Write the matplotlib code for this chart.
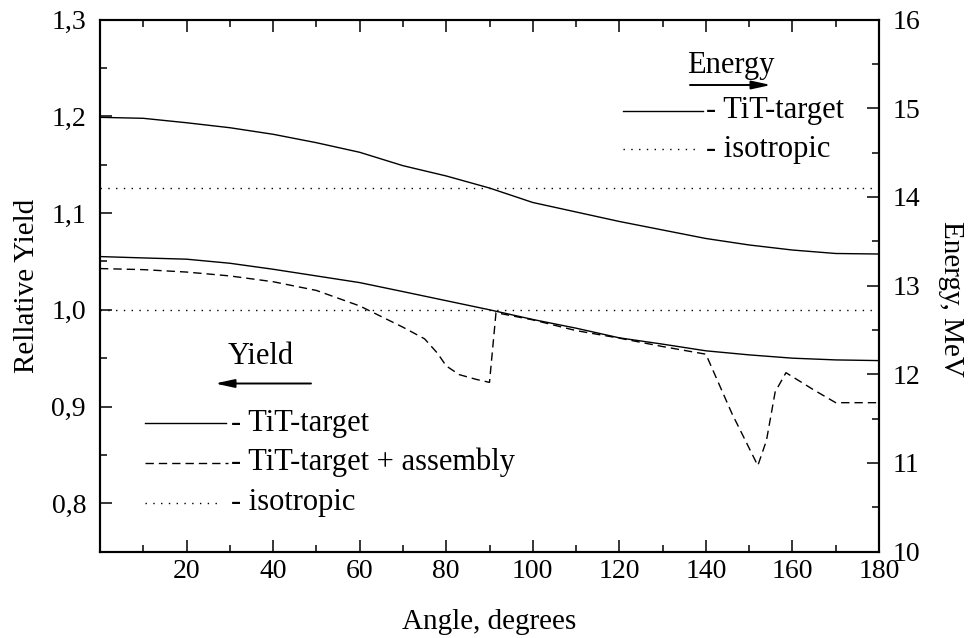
import matplotlib
matplotlib.use("Agg")
import matplotlib.pyplot as plt
from matplotlib.lines import Line2D
from matplotlib.ticker import MultipleLocator, FuncFormatter

plt.rcParams['font.family'] = ['Liberation Serif', 'DejaVu Serif']

# Neutron energy vs emission angle (right axis), TiT target
angle_energy = [0, 10, 20, 30, 40, 50, 60, 70, 80, 90, 100, 110, 120, 130, 140, 150, 160, 170, 180]
energy_tit = [14.897, 14.886, 14.836, 14.780, 14.706, 14.611, 14.503, 14.352, 14.236, 14.100,
              13.937, 13.830, 13.723, 13.627, 13.531, 13.458, 13.401, 13.362, 13.356]
energy_iso = 14.1

# Relative yield vs angle (left axis), bare TiT target
angle_yield = [0, 10, 20, 30, 40, 50, 60, 70, 80, 90, 100, 110, 120, 130, 140, 150, 160, 170, 180]
yield_tit = [1.055, 1.0536, 1.0523, 1.0481, 1.0419, 1.035, 1.0281, 1.0188, 1.0094, 1.000,
             0.990, 0.981, 0.971, 0.9645, 0.9576, 0.9534, 0.950, 0.9482, 0.9475]

# Relative yield vs angle, TiT target with the assembly
angle_assembly = [0, 10, 20, 30, 40, 50, 60, 70, 75, 78, 80, 83, 87, 90, 91.5, 100, 110, 120,
                  130, 140, 146, 152, 154, 156, 158.5, 165, 170, 180]
yield_assembly = [1.0426, 1.0415, 1.039, 1.035, 1.029, 1.020, 1.004, 0.982, 0.970, 0.955, 0.942,
                  0.933, 0.928, 0.925, 0.997, 0.9896, 0.9785, 0.9707, 0.962, 0.9541, 0.893,
                  0.839, 0.865, 0.915, 0.935, 0.917, 0.904, 0.904]
yield_iso = 1.0

W, H = 972, 638
fig = plt.figure(figsize=(W / 100, H / 100), dpi=100)
ax_l, ax_r, ax_t, ax_b = 100, 879, 19.5, 551.7
ax = fig.add_axes([ax_l / W, 1 - ax_b / H, (ax_r - ax_l) / W, (ax_b - ax_t) / H])
ax2 = ax.twinx()

DASH = (0, (6.0, 3.6))
DOT = (0, (1.0, 4.6))
LW = 1.0
TICK_FS = 20
LABEL_FS = 21
KEY_FS = 22

ax.plot(angle_yield, yield_tit, color='black', lw=LW)
ax.plot(angle_assembly, yield_assembly, color='black', lw=LW, linestyle=DASH)
ax.axhline(yield_iso, color='black', lw=LW, linestyle=DOT)

ax2.plot(angle_energy, energy_tit, color='black', lw=LW)
ax2.axhline(energy_iso, color='black', lw=LW, linestyle=DOT)

ax.set_xlim(0, 180)
ax.set_ylim(0.75, 1.3)
ax2.set_ylim(10, 16)

ax.set_xticks(range(20, 181, 20))
ax.xaxis.set_minor_locator(MultipleLocator(10))
ax.set_yticks([0.8, 0.9, 1.0, 1.1, 1.2, 1.3])
ax.yaxis.set_minor_locator(MultipleLocator(0.05))
ax.yaxis.set_major_formatter(FuncFormatter(lambda v, p: f"{v:.1f}".replace('.', ',')))
ax2.set_yticks(range(10, 17))
ax2.yaxis.set_minor_locator(MultipleLocator(0.5))

for a in (ax, ax2):
    for s in a.spines.values():
        s.set_linewidth(1.5)

ax.tick_params(which='both', direction='in', top=True, right=False, width=1.1, labelsize=TICK_FS)
ax.tick_params(which='major', length=8.5)
ax.tick_params(which='minor', length=5)
ax.tick_params(axis='y', pad=10)
ax.tick_params(axis='x', pad=5.5)
ax2.tick_params(which='both', direction='in', width=1.1, labelsize=TICK_FS, pad=9.5)
ax2.tick_params(which='major', length=8.5)
ax2.tick_params(which='minor', length=5)

ax.set_xlabel('Angle, degrees', fontsize=LABEL_FS, labelpad=18)
ax.set_ylabel('Rellative Yield', fontsize=LABEL_FS, labelpad=8)
ax2.set_ylabel('Energy, MeV', fontsize=LABEL_FS, rotation=270, va='bottom', labelpad=13, y=0.475)


def px(x, y):
    return x / W, 1 - y / H


def legend_row(x0, x1, y, style, label):
    (fx0, fy), (fx1, _) = px(x0, y), px(x1, y)
    fig.add_artist(Line2D([fx0, fx1], [fy, fy], color='black', lw=LW, linestyle=style,
                          transform=fig.transFigure))
    tx, ty = px(706, y) if x0 > 500 else px(231, y)
    fig.text(tx, ty, label, fontsize=KEY_FS, va='center', ha='left')


# Energy key (upper right)
fig.text(*px(731, 66), 'Energy', fontsize=KEY_FS, ha='center', va='center')
ax.annotate('', xy=px(771, 85), xytext=px(690, 85), xycoords='figure fraction',
            textcoords='figure fraction',
            arrowprops=dict(arrowstyle='-|>,head_length=1.15,head_width=0.25',
                            mutation_scale=10, color='black', lw=1.4, shrinkA=0, shrinkB=0))
legend_row(623, 703, 110.7, '-', '- TiT-target')
legend_row(623, 699, 149.3, DOT, '- isotropic')

# Yield key (lower left)
fig.text(*px(261, 356), 'Yield', fontsize=KEY_FS, ha='center', va='center')
ax.annotate('', xy=px(215, 383.5), xytext=px(311, 383.5), xycoords='figure fraction',
            textcoords='figure fraction',
            arrowprops=dict(arrowstyle='-|>,head_length=1.15,head_width=0.25',
                            mutation_scale=10, color='black', lw=1.4, shrinkA=0, shrinkB=0))
legend_row(145, 226, 423.3, '-', '- TiT-target')
legend_row(145, 228, 462.7, DASH, '- TiT-target + assembly')
legend_row(145, 222, 502.7, DOT, '- isotropic')

fig.savefig('out.png', dpi=100)
